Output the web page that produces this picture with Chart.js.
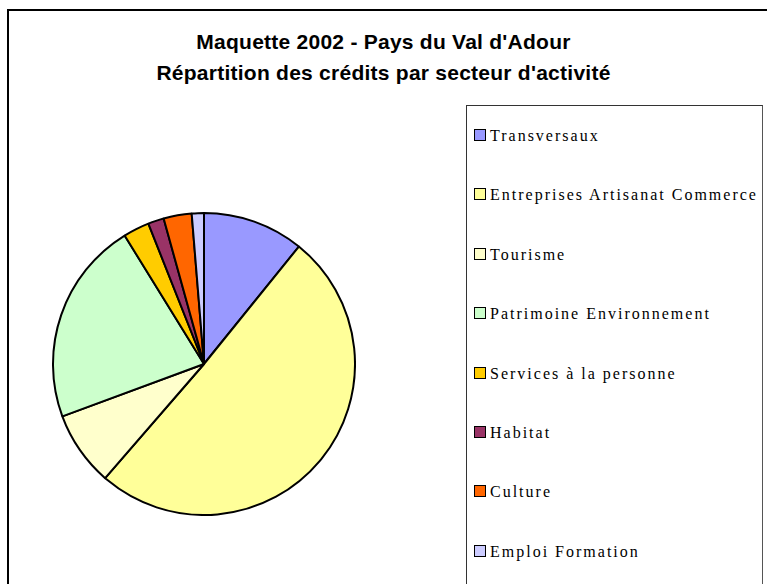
<!DOCTYPE html>
<html lang="fr">
<head>
<meta charset="UTF-8">
<title>Maquette 2002 - Pays du Val d'Adour</title>
<script src="https://cdn.jsdelivr.net/npm/chart.js"></script>
<style>
  body { margin: 0; background: #fff; }
  #wrap { position: relative; width: 767px; height: 584px; overflow: hidden; background: #fff; }
  #frame { position: absolute; left: 7px; top: 9px; width: 900px; height: 700px; border-left: 2px solid #000; border-top: 2px solid #000; }
  .title { position: absolute; left: 0; width: 767px; text-align: center; font: bold 21px "Liberation Sans", Arial, sans-serif; letter-spacing: 0.25px; color: #000; line-height: 24px; }
  #legend { position: absolute; left: 466px; top: 105px; width: 295px; height: 600px; border: 1px solid #333; border-right-color: #555; }
  .item { position: absolute; left: 7px; height: 16px; font: 16px "Liberation Serif", "Times New Roman", serif; letter-spacing: 2px; line-height: 16px; color: #000; white-space: nowrap; }
  .box { display: inline-block; width: 10px; height: 10px; border: 1.5px solid #000; vertical-align: top; margin-top: 1px; margin-right: 4px; }
  #pie { position: absolute; left: 52px; top: 212px; width: 304px; height: 304px; }
</style>
</head>
<body>
<div id="wrap">
  <div id="frame"></div>
  <div class="title" style="top:30px">Maquette 2002 - Pays du Val d'Adour</div>
  <div class="title" style="top:61px">Répartition des crédits par secteur d'activité</div>
  <div id="legend"></div>
  <div id="pie"><canvas id="chart" width="304" height="304"></canvas></div>
</div>
<script>
// secteurs d'activité (part des crédits, en %)
const secteurs = [
  "Transversaux",
  "Entreprises Artisanat Commerce",
  "Tourisme",
  "Patrimoine Environnement",
  "Services à la personne",
  "Habitat",
  "Culture",
  "Emploi Formation",
]
const credits = [10.8, 50.5, 8.0, 21.8, 2.8, 1.7, 3.0, 1.3]
const couleurs = ["#9999FF", "#FFFF99", "#FFFFCC", "#CCFFCC", "#FFCC00", "#993366", "#FF6600", "#CCCCFF"]

const chart = new Chart(document.getElementById("chart"), {
  type: "pie",
  data: {
    labels: secteurs,
    datasets: [
      {
        data: credits,
        backgroundColor: couleurs,
        borderColor: "#000",
        borderWidth: 2,
        hoverOffset: 0,
      },
    ],
  },
  options: {
    responsive: false,
    animation: false,
    layout: { padding: 0 },
    plugins: {
      legend: { display: false },
      title: { display: false },
      tooltip: { enabled: false },
    },
  },
})

// html legend built from the chart's own items
const legendEl = document.getElementById("legend")
const items = chart.options.plugins.legend.labels.generateLabels(chart)
items.forEach((it, i) => {
  const row = document.createElement("div")
  row.className = "item"
  row.style.top = 22 + i * 59.4 + "px"
  const sw = document.createElement("span")
  sw.className = "box"
  sw.style.background = it.fillStyle
  row.appendChild(sw)
  row.appendChild(document.createTextNode(it.text))
  legendEl.appendChild(row)
})
</script>
</body>
</html>
